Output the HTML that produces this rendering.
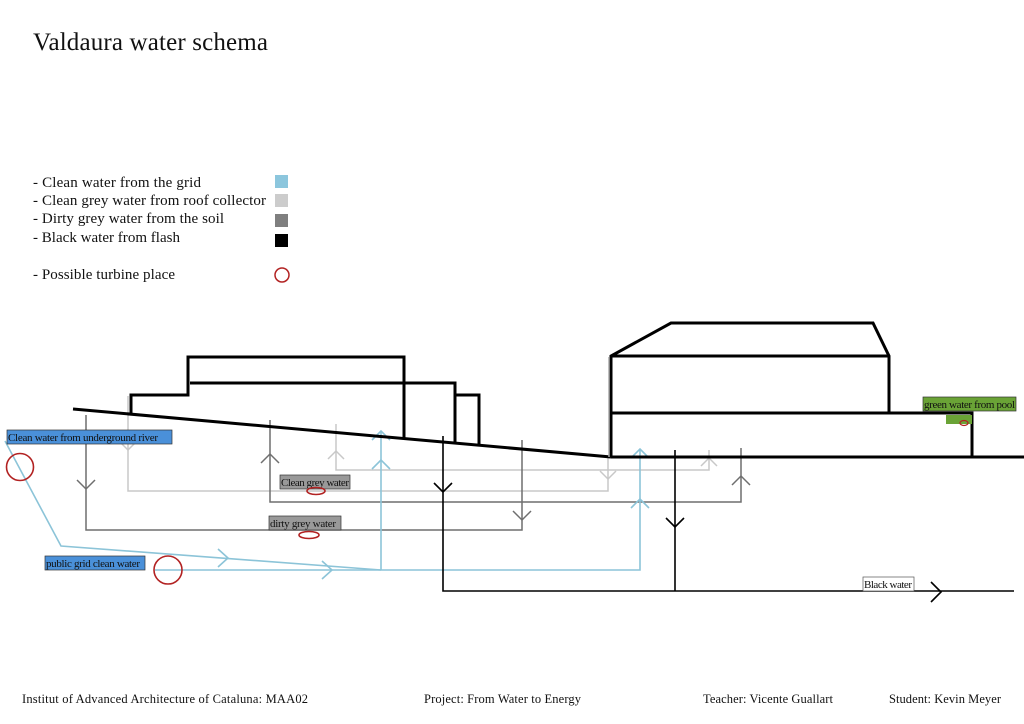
<!DOCTYPE html>
<html><head><meta charset="utf-8"><style>
html,body{margin:0;padding:0;background:#fff;width:1024px;height:724px;overflow:hidden}
svg{display:block}
text{font-family:"Liberation Serif",serif;fill:#111}
</style></head><body>
<svg width="1024" height="724" viewBox="0 0 1024 724" xmlns="http://www.w3.org/2000/svg">
<text x="33" y="50" font-size="25" textLength="235">Valdaura water schema</text>

<g font-size="15">
<text x="33" y="187" textLength="168">- Clean water from the grid</text>
<text x="33" y="205" textLength="233">- Clean grey water from roof collector</text>
<text x="33" y="223" textLength="191">- Dirty grey water from the soil</text>
<text x="33" y="242" textLength="147">- Black water from flash</text>
<text x="33" y="279" textLength="142">- Possible turbine place</text>
</g>
<rect x="275" y="175" width="13" height="13" fill="#8cc6dd"/>
<rect x="275" y="194" width="13" height="13" fill="#cccccc"/>
<rect x="275" y="214" width="13" height="13" fill="#7f7f7f"/>
<rect x="275" y="234" width="13" height="13" fill="#000"/>
<circle cx="282" cy="275" r="7" fill="none" stroke="#b22222" stroke-width="1.5"/>

<g fill="none" stroke="#c8c8c8" stroke-width="1.5">
<polyline points="128,396 128,491 608,491 608,457"/>
<polyline points="120,442 128,450 136,442"/>
<polyline points="600,471 608,479 616,471"/>
<polyline points="336,424 336,470 709,470 709,450"/>
<polyline points="328,459 336,451 344,459"/>
<polyline points="701,466 709,458 717,466"/>
</g>
<g fill="none" stroke="#6f6f6f" stroke-width="1.5">
<polyline points="86,415 86,530 522,530 522,440"/>
<polyline points="77,480 86,489 95,480"/>
<polyline points="513,511 522,520 531,511"/>
<polyline points="270,420 270,502 741,502 741,448"/>
<polyline points="261,463 270,454 279,463"/>
<polyline points="732,485 741,476 750,485"/>
</g>
<g fill="none" stroke="#8cc4d8" stroke-width="1.6">
<polyline points="5,441 61,546 381,570"/>
<polyline points="155,570 640,570 640,449"/>
<polyline points="381,570 381,432"/>
<polyline points="372,440 381,431 390,440"/>
<polyline points="372,469 381,460 390,469"/>
<polyline points="631,458 640,449 649,458"/>
<polyline points="631,508 640,499 649,508"/>
<polyline points="218,549 228,558 218,567"/>
<polyline points="322,561 332,570 322,579"/>
</g>
<g fill="none" stroke="#000" stroke-width="1.6">
<polyline points="443,436 443,591 1014,591"/>
<line x1="675" y1="450" x2="675" y2="591"/>
<polyline points="434,483 443,492 452,483"/>
<polyline points="666,518 675,527 684,518"/>
<polyline points="931,582 941,592 931,602"/>
</g>

<g fill="none" stroke="#000" stroke-width="3">
<line x1="73" y1="409" x2="611" y2="457"/>
<line x1="611" y1="457" x2="1024" y2="457"/>
<polyline points="131,414 131,395 188,395 188,357 404,357 404,438"/>
<polyline points="190,383 455,383 455,442"/>
<polyline points="455,395 479,395 479,445"/>
<polyline points="611,457 611,356 671,323 873,323 889,356 889,413"/>
<line x1="611" y1="356" x2="889" y2="356"/>
<polyline points="611,413 972,413 972,457"/>
</g>
<line x1="609" y1="357" x2="609" y2="457" stroke="#aaa" stroke-width="1.5"/>

<g font-size="11">
<rect x="7" y="430" width="165" height="14" fill="#4a90d9" stroke="#333" stroke-width="0.7"/>
<text x="8" y="441" textLength="150">Clean water from underground river</text>
<rect x="45" y="556" width="100" height="14" fill="#4a90d9" stroke="#333" stroke-width="0.7"/>
<text x="46" y="567" textLength="94">public grid clean water</text>
<rect x="280" y="475" width="70" height="14" fill="#999" stroke="#333" stroke-width="0.7"/>
<text x="281" y="486" textLength="68">Clean grey water</text>
<rect x="269" y="516" width="72" height="14" fill="#999" stroke="#333" stroke-width="0.7"/>
<text x="270" y="527" textLength="66">dirty grey water</text>
<rect x="863" y="577" width="51" height="14" fill="#fff" stroke="#555" stroke-width="0.7"/>
<text x="864" y="588" textLength="48">Black water</text>
<rect x="923" y="397" width="93" height="14" fill="#6aa336" stroke="#333" stroke-width="0.7"/>
<text x="924" y="408" textLength="91">green water from pool</text>
</g>
<rect x="946" y="415" width="26" height="9" fill="#6aa336"/>
<ellipse cx="964" cy="423" rx="4" ry="2.5" fill="none" stroke="#b22222" stroke-width="1.2"/>

<g fill="none" stroke="#b22222" stroke-width="1.6">
<circle cx="20" cy="467" r="13.5"/>
<circle cx="168" cy="570" r="14"/>
<ellipse cx="316" cy="491" rx="9" ry="3.5"/>
<ellipse cx="309" cy="535" rx="10" ry="3.5"/>
</g>

<g font-size="12.5">
<text x="22" y="703" textLength="286">Institut of Advanced Architecture of Cataluna: MAA02</text>
<text x="424" y="703" textLength="157">Project: From Water to Energy</text>
<text x="703" y="703" textLength="130">Teacher: Vicente Guallart</text>
<text x="889" y="703" textLength="112">Student: Kevin Meyer</text>
</g>
</svg>
</body></html>
